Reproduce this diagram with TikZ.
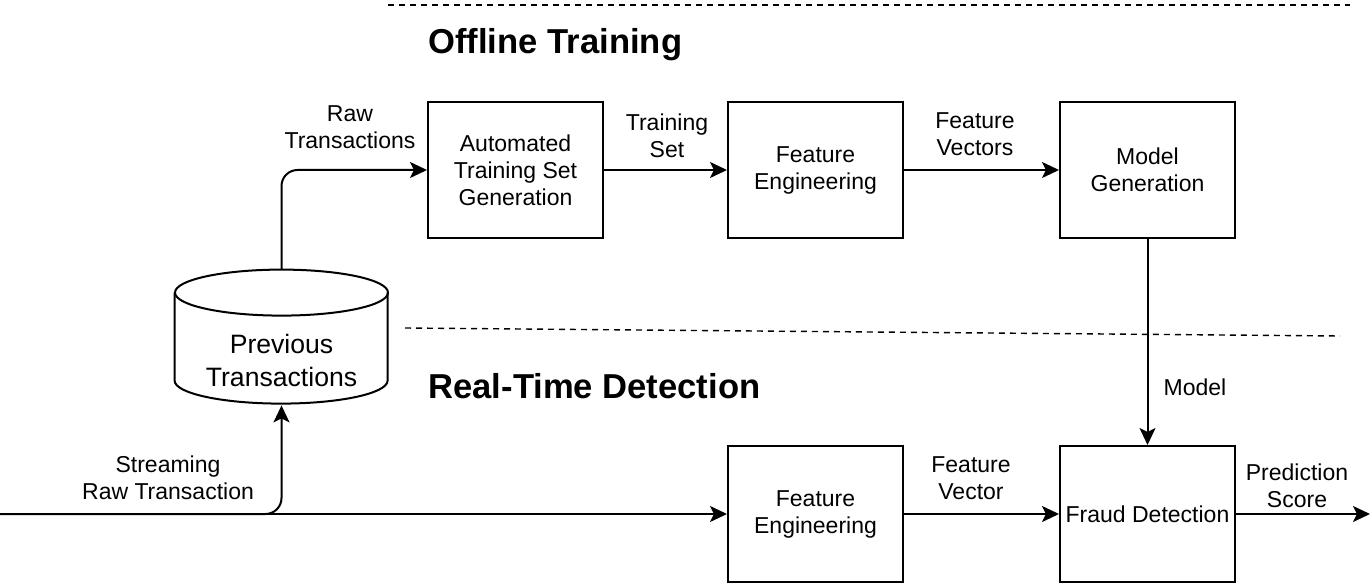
\documentclass[tikz,border=0pt]{standalone}
\usepackage{fontspec}
\setmainfont{Liberation Sans}
\usetikzlibrary{arrows.meta}
\tikzset{
    box/.style={draw, line width=1pt, minimum width=87.5pt, minimum height=68pt,
        align=center, inner sep=0pt, font=\fontsize{11.5}{13.5}\selectfont},
    lbl/.style={align=center, inner sep=0pt, font=\fontsize{11.5}{13.5}\selectfont},
    title/.style={anchor=west, inner sep=0pt, font=\fontsize{17.3}{20}\selectfont\bfseries},
    arr/.style={line width=1pt, -{Stealth[length=8.5pt,width=8pt,inset=2pt]}},
    sep/.style={line width=0.7pt, dash pattern=on 3pt off 2.5pt},
}
\begin{document}
\begin{tikzpicture}[x=0.5pt, y=-0.5pt]
    \useasboundingbox (0,0) rectangle (1371,583);

    % Trennlinien
    \coordinate (topL) at (388,5);
    \coordinate (topR) at (1350,5);
    \coordinate (midL) at (405,328);
    \coordinate (midR) at (1340,336);
    \draw[sep] (topL) -- (topR);
    \draw[sep] (midL) -- (midR);

    % Ueberschriften
    \node[title] (offline) at (428,45) {Offline Training};
    \node[title] (realtime) at (428,386) {Real-Time Detection};

    % Bloecke
    \node[box] (atsg) at (515.5,170) {Automated\\Training Set\\Generation};
    \node[box] (fe) at (815.5,170) {Feature\\Engineering};
    \node[box] (mg) at (1147.5,170) {Model\\Generation};
    \node[box] (fe2) at (815.5,514) {Feature\\Engineering};
    \node[box] (fd) at (1147.5,514) {Fraud Detection};

    % Datenbank
    \node[minimum width=106.5pt, minimum height=67.5pt, inner sep=0pt] (cyl) at (281.5,337.5) {};
    \draw[line width=1pt] (cyl.north) ++(0,23) ellipse[x radius=106.5, y radius=23];
    \draw[line width=1pt] (cyl.north west) ++(0,23) -- ++(0,88)
        arc[start angle=180, end angle=0, x radius=106.5, y radius=23] -- ++(0,-88);
    \node[align=center, inner sep=0pt, font=\fontsize{13.3}{16.5}\selectfont]
        (cyltext) at (281.5,360) {Previous\\Transactions};

    % Ein- und Ausgang
    \coordinate (src) at (0,514);
    \coordinate (out) at (1370,514);

    % Pfeile
    \draw[arr, rounded corners=8pt] (cyl.north) |- (atsg.west);
    \draw[arr] (atsg) -- (fe);
    \draw[arr] (fe) -- (mg);
    \draw[arr] (mg) -- (fd);
    \draw[arr] (src) -- (fe2.west);
    \draw[arr, rounded corners=8pt] (src) -| (cyl.south);
    \draw[arr] (fe2) -- (fd);
    \draw[arr] (fd) -- (out);

    % Beschriftungen
    \node[lbl] (lraw) at (350,127) {Raw\\Transactions};
    \node[lbl] (lts) at (667,136) {Training\\Set};
    \node[lbl] (lfvs) at (975,134) {Feature\\Vectors};
    \node[lbl] (lmodel) at (1195,387) {Model};
    \node[lbl] (lstream) at (168,478) {Streaming\\Raw Transaction};
    \node[lbl] (lfv) at (971,478) {Feature\\Vector};
    \node[lbl] (lscore) at (1297,486) {Prediction\\Score};
\end{tikzpicture}
\end{document}
